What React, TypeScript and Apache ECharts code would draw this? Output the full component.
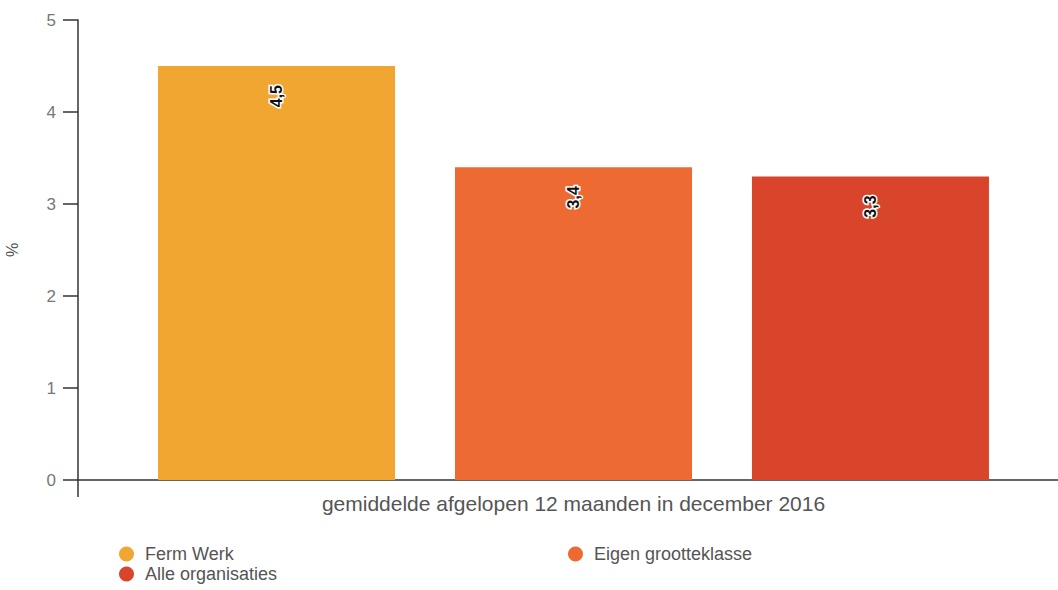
import React, { useEffect, useRef } from "react";
import * as echarts from "echarts";

const categories = ["gemiddelde afgelopen 12 maanden in december 2016"];
const seriesNames = ["Ferm Werk", "Eigen grootteklasse", "Alle organisaties"];
const fermWerk = [4.5];
const eigenGrootteklasse = [3.4];
const alleOrganisaties = [3.3];
const colors = ["#F0A631", "#EE6A33", "#D8452B"];
const yTicks = [0, 1, 2, 3, 4, 5];

export default function App() {
  const ref = useRef<HTMLDivElement>(null);
  useEffect(() => {
    if (!ref.current) return;
    const chart = echarts.init(ref.current, undefined, { renderer: "svg" });
    const label = {
      show: true,
      position: "insideTop",
      rotate: 90,
      align: "right",
      verticalAlign: "middle",
      distance: 19,
      color: "#111",
      fontSize: 16,
      fontWeight: "bold",
      fontFamily: "Liberation Sans, Arial, sans-serif",
      textBorderColor: "#fff",
      textBorderWidth: 3,
      formatter: (p: any) => String(p.value).replace(".", ","),
    };
    const data = [fermWerk, eigenGrootteklasse, alleOrganisaties];
    const legendCommon = {
      orient: "horizontal",
      icon: "circle",
      itemWidth: 15,
      itemHeight: 15,
      padding: 0,
      textStyle: { color: "#555", fontSize: 18, padding: [0, 0, 0, 6] },
    };
    chart.setOption({
      animation: false,
      backgroundColor: "#fff",
      color: colors,
      textStyle: { fontFamily: "Liberation Sans, Arial, sans-serif" },
      grid: { left: 78, width: 991, top: 20, bottom: 110, containLabel: false, outerBoundsMode: "none" },
      legend: [
        { ...legendCommon, data: [seriesNames[0]], left: 119, top: 545 },
        { ...legendCommon, data: [seriesNames[2]], left: 119, top: 565 },
        { ...legendCommon, data: [seriesNames[1]], left: 568, top: 545 },
      ],
      xAxis: {
        type: "category",
        data: categories,
        axisLine: { lineStyle: { color: "#333", width: 1.5 } },
        axisTick: { show: true, length: 17, lineStyle: { color: "#333", width: 1.5 } },
        axisLabel: { color: "#555", fontSize: 21, margin: 13 },
      },
      yAxis: {
        type: "value",
        min: yTicks[0],
        max: yTicks[yTicks.length - 1],
        interval: 1,
        name: "%",
        nameLocation: "middle",
        nameRotate: 90,
        nameGap: 58,
        nameTextStyle: { color: "#555", fontSize: 16 },
        axisLine: { show: true, lineStyle: { color: "#333", width: 1.5 } },
        axisTick: { show: true, length: 15, lineStyle: { color: "#333", width: 1.5 } },
        axisLabel: { color: "#777", fontSize: 17, margin: 22 },
        splitLine: { show: false },
      },
      series: seriesNames.map((name, i) => ({
        name,
        type: "bar",
        data: data[i],
        barWidth: 237,
        barGap: "25.3%",
        label,
      })),
    });
    return () => chart.dispose();
  }, []);
  return <div ref={ref} style={{ width: 1058, height: 590, position: "absolute", left: 0, top: 0 }} />;
}
